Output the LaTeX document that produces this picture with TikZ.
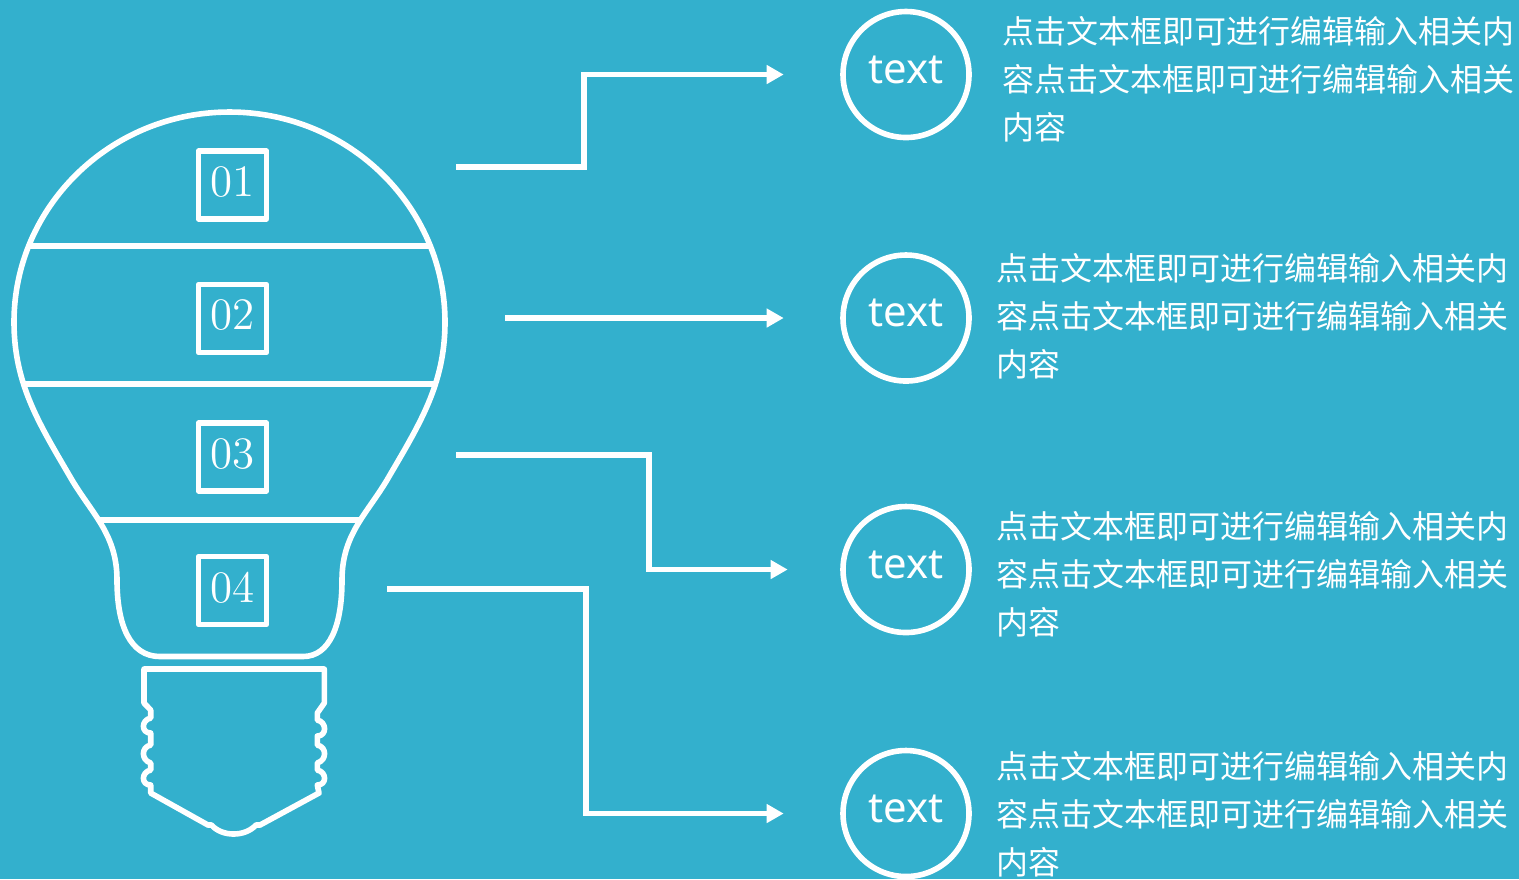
\documentclass[tikz,border=0pt]{standalone}
\usepackage{fontspec}
\usepackage{xcolor}
\usepackage{tikz}
\usetikzlibrary{arrows.meta, positioning}
\newfontfamily\cjkfont{Noto Sans CJK SC}
\newfontfamily\circfont{Noto Sans}
\definecolor{bgblue}{HTML}{33B0CD}
\newcommand{\bodytext}{点击文本框即可进行编辑输入相关内\\容点击文本框即可进行编辑输入相关\\内容}
\tikzset{
	outline/.style = {draw = white, line width = 0.056cm, line join = round},
	numbox/.style = {outline, text = white, minimum size = 0.68cm, inner sep = 0, text depth = 0.07cm, font = \fontsize{12.8}{13}\selectfont},
	circlebox/.style = {outline, circle, text = white, minimum size = 1.26cm, inner sep = 0, text depth = 0.1cm, font = \circfont\fontsize{11.9}{13}\selectfont},
	textbox/.style = {anchor = west, align = left, text = white, inner sep = 0, font = \cjkfont\fontsize{9.1}{13.65}\selectfont},
	flowline/.style = {draw = white, line width = 0.056cm, -{Triangle[length = 0.17cm, width = 0.18cm]}}
}

\begin{document}
\begin{tikzpicture}
	\useasboundingbox (0, 0) rectangle (15.19, -8.79);
	\fill[bgblue] (0, 0) rectangle (15.19, -8.79);

	% bulb glass
	\draw[outline] (2.295, -1.12) .. controls (1.10, -1.12) and (0.14, -2.07) .. (0.14, -3.22)
		.. controls (0.14, -3.85) and (0.40, -4.25) .. (0.72, -4.80)
		.. controls (0.93, -5.15) and (1.17, -5.35) .. (1.17, -5.80)
		.. controls (1.17, -6.25) and (1.30, -6.565) .. (1.60, -6.565)
		-- (3.03, -6.565)
		.. controls (3.30, -6.565) and (3.42, -6.25) .. (3.42, -5.80)
		.. controls (3.42, -5.35) and (3.66, -5.15) .. (3.87, -4.80)
		.. controls (4.19, -4.25) and (4.45, -3.85) .. (4.45, -3.22)
		.. controls (4.45, -2.07) and (3.49, -1.12) .. (2.295, -1.12);
	\draw[outline] (0.28, -2.46) -- (4.31, -2.46);
	\draw[outline] (0.24, -3.84) -- (4.35, -3.84);
	\draw[outline] (0.98, -5.20) -- (3.61, -5.20);

	% bulb socket
	\draw[outline] (1.44, -6.69) -- (3.243, -6.69) -- (3.243, -7.03) -- (3.173, -7.13) -- (3.173, -7.20)
		.. controls (3.27, -7.22) and (3.27, -7.36) .. (3.173, -7.36) -- (3.173, -7.45)
		.. controls (3.27, -7.47) and (3.27, -7.60) .. (3.173, -7.63) -- (3.173, -7.70)
		.. controls (3.27, -7.72) and (3.27, -7.85) .. (3.173, -7.85) -- (3.19, -7.93)
		-- (2.60, -8.25) -- (2.56, -8.25)
		.. controls (2.45, -8.37) and (2.22, -8.37) .. (2.115, -8.25) -- (2.08, -8.25)
		-- (1.507, -7.93) -- (1.507, -7.85)
		.. controls (1.41, -7.85) and (1.41, -7.72) .. (1.507, -7.70) -- (1.507, -7.63)
		.. controls (1.41, -7.60) and (1.41, -7.47) .. (1.507, -7.45) -- (1.507, -7.33)
		.. controls (1.41, -7.33) and (1.41, -7.20) .. (1.507, -7.18) -- (1.507, -7.10)
		-- (1.44, -7.03) -- cycle;

	\node[numbox] (num1) at (2.325, -1.85) {01};
	\node[numbox] (num2) at (2.325, -3.185) {02};
	\node[numbox] (num3) at (2.325, -4.57) {03};
	\node[numbox] (num4) at (2.325, -5.905) {04};

	\node[circlebox] (circ1) at (9.06, -0.745) {text};
	\node[circlebox] (circ2) at (9.06, -3.18) {text};
	\node[circlebox] (circ3) at (9.06, -5.695) {text};
	\node[circlebox] (circ4) at (9.06, -8.135) {text};

	\node[textbox] (text1) at (10.02, -0.79) {\bodytext};
	\node[textbox] (text2) at (9.96, -3.16) {\bodytext};
	\node[textbox] (text3) at (9.96, -5.74) {\bodytext};
	\node[textbox] (text4) at (9.96, -8.14) {\bodytext};

	\coordinate (from1) at (4.56, -1.67);
	\coordinate (from2) at (5.05, -3.18);
	\coordinate (from3) at (4.56, -4.55);
	\coordinate (from4) at (3.87, -5.89);
	\coordinate (bend1) at (5.84, -1.67);
	\coordinate (bend3) at (6.49, -4.55);
	\coordinate (bend4) at (5.86, -5.89);

	\draw[flowline, shorten > = 0.565cm] (from1) -- (bend1) |- (circ1.west);
	\draw[flowline, shorten > = 0.565cm] (from2) -- (circ2.west);
	\draw[flowline, shorten > = 0.525cm] (from3) -- (bend3) |- (circ3.west);
	\draw[flowline, shorten > = 0.565cm] (from4) -- (bend4) |- (circ4.west);
\end{tikzpicture}
\end{document}
